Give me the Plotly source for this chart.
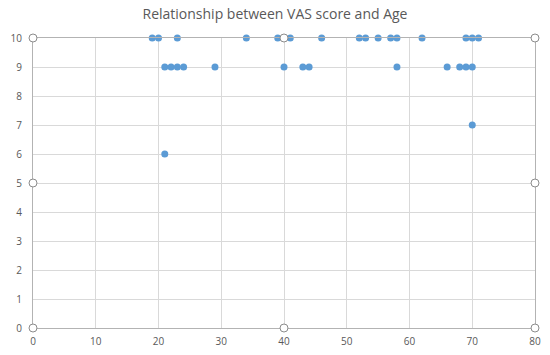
import plotly.graph_objects as go

age = [19, 20, 23, 34, 39, 41, 46, 52, 53, 55, 57, 58, 62, 69, 70, 71,
       21, 22, 23, 24, 29, 40, 43, 44, 58, 66, 68, 69, 70,
       70, 21]
vas = [10, 10, 10, 10, 10, 10, 10, 10, 10, 10, 10, 10, 10, 10, 10, 10,
       9, 9, 9, 9, 9, 9, 9, 9, 9, 9, 9, 9, 9,
       7, 6]

title = "Relationship between VAS score and Age"
x_ticks = list(range(0, 81, 10))
y_ticks = list(range(0, 11, 1))

fig = go.Figure()
fig.add_trace(go.Scatter(x=age, y=vas, mode="markers",
                         marker=dict(color="#5B9BD5", size=7, line=dict(width=0)),
                         cliponaxis=False, showlegend=False, hoverinfo="skip"))

font = "Open Sans"
fig.update_layout(
    width=550, height=355,
    margin=dict(l=33, r=15, t=38, b=27, autoexpand=False),
    paper_bgcolor="white", plot_bgcolor="white",
    title=dict(text=title, x=0.5, xanchor="center", y=1 - 14 / 355, yanchor="middle",
               font=dict(family=font, size=14, color="#595959")),
    font=dict(family=font, size=10, color="#595959"),
    hovermode=False,
)
fig.update_xaxes(range=[0, 80], tickvals=x_ticks, showgrid=True, gridcolor="#d9d9d9",
                 gridwidth=1, zeroline=False, showline=True, linecolor="#b3b3b3",
                 linewidth=1, mirror=True, ticks="", ticklen=0, fixedrange=True,
                 ticklabelstandoff=4)
fig.update_yaxes(range=[0, 10], tickvals=y_ticks, showgrid=True, gridcolor="#d9d9d9",
                 gridwidth=1, zeroline=False, showline=True, linecolor="#b3b3b3",
                 linewidth=1, mirror=True, ticks="", ticklen=0, fixedrange=True,
                 ticklabelstandoff=8)

# selection handles of the plot area
for px, py in [(0, 1), (0.5, 1), (1, 1), (0, 0.5), (1, 0.5), (0, 0), (0.5, 0), (1, 0)]:
    fig.add_shape(type="circle", xref="paper", yref="paper",
                  xsizemode="pixel", ysizemode="pixel",
                  xanchor=px, yanchor=py, x0=-4, x1=4, y0=-4, y1=4,
                  line=dict(color="#8c8c8c", width=1), fillcolor="white", layer="above")

fig.write_html("out.html", config={"displayModeBar": False, "staticPlot": True},
               post_script="document.body.style.margin='0';document.body.style.overflow='hidden';")
